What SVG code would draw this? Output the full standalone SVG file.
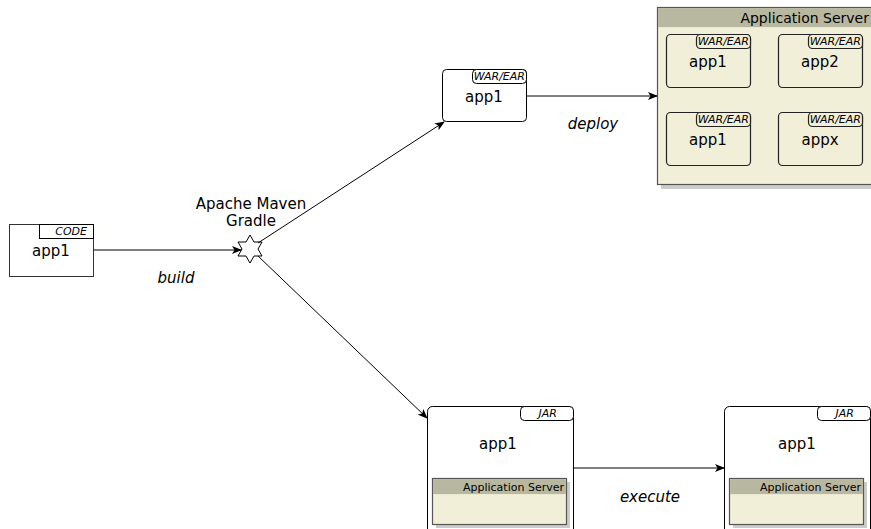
<svg xmlns="http://www.w3.org/2000/svg" width="871" height="529" viewBox="0 0 871 529">
<defs>
<marker id="arr" markerWidth="10" markerHeight="8" refX="9" refY="4" orient="auto" markerUnits="userSpaceOnUse">
<path d="M0,0 L10,4 L0,8 L2.5,4 Z" fill="#000"/>
</marker>
</defs>
<style>
text{font-family:"DejaVu Sans",sans-serif;fill:#000}
.lbl{font-size:15px;text-anchor:middle}
.tag{font-size:11px;font-style:italic;text-anchor:end}
.edge{font-size:15px;font-style:italic;text-anchor:middle}
.node{fill:#fff;stroke:#000;stroke-width:1}
.tagbox{fill:#fff;stroke:#000;stroke-width:1}
.srv{fill:#f2efd9;stroke:#555;stroke-width:1.2}
.hdr{fill:#b8b8a0;stroke:none}
.shadow{fill:#ccc}
.conn{stroke:#000;stroke-width:1;fill:none;marker-end:url(#arr)}
</style>
<g id="code">
<rect class="node" x="9.5" y="224.5" width="84" height="52" style="stroke:#333"/>
<rect class="tagbox" x="39.5" y="224.5" width="54" height="14"/>
<text class="tag" x="87" y="235">CODE</text>
<text class="lbl" x="51" y="256">app1</text>
</g>
<g id="build-tool">
<text class="lbl" x="251" y="209">Apache Maven</text>
<text class="lbl" x="251" y="226">Gradle</text>
<polygon points="250,235 254,242 262,242 258,249 262,256 254,256 250,263 246,256 238,256 242,249 238,242 246,242" fill="#fff" stroke="#000" stroke-width="1"/>
</g>
<g id="war">
<rect class="node" x="442.5" y="69.5" width="84" height="52" rx="4"/>
<rect class="tagbox" x="472.5" y="69.5" width="54" height="14" rx="4"/>
<text class="tag" x="525" y="80">WAR/EAR</text>
<text class="lbl" x="484" y="102">app1</text>
</g>
<g id="appserver">
<rect class="shadow" x="661" y="11" width="214" height="178"/>
<rect class="srv" x="657.5" y="7.5" width="216" height="177"/>
<rect class="hdr" x="658.1" y="8.1" width="214" height="19"/>
<text x="869" y="23" style="font-size:14px;text-anchor:end">Application Server</text>
<g id="srv-app1">
<rect class="srv" x="666.5" y="34.5" width="84" height="53" rx="4" style="stroke:#222"/>
<rect class="srv" x="696.5" y="34.5" width="54" height="14" rx="4" style="stroke:#222"/>
<text class="tag" x="749" y="45">WAR/EAR</text>
<text class="lbl" x="708" y="67">app1</text>
</g>
<g id="srv-app2">
<rect class="srv" x="778.5" y="34.5" width="84" height="53" rx="4" style="stroke:#222"/>
<rect class="srv" x="808.5" y="34.5" width="54" height="14" rx="4" style="stroke:#222"/>
<text class="tag" x="861" y="45">WAR/EAR</text>
<text class="lbl" x="820" y="67">app2</text>
</g>
<g id="srv-app1b">
<rect class="srv" x="666.5" y="112.5" width="84" height="53" rx="4" style="stroke:#222"/>
<rect class="srv" x="696.5" y="112.5" width="54" height="14" rx="4" style="stroke:#222"/>
<text class="tag" x="749" y="123">WAR/EAR</text>
<text class="lbl" x="708" y="145">app1</text>
</g>
<g id="srv-appx">
<rect class="srv" x="778.5" y="112.5" width="84" height="53" rx="4" style="stroke:#222"/>
<rect class="srv" x="808.5" y="112.5" width="54" height="14" rx="4" style="stroke:#222"/>
<text class="tag" x="861" y="123">WAR/EAR</text>
<text class="lbl" x="820" y="145">appx</text>
</g>
</g>
<g id="jar1">
<rect class="node" x="427.5" y="406.5" width="146" height="130" rx="5"/>
<rect class="tagbox" x="520.5" y="406.5" width="53" height="14" rx="4"/>
<text class="tag" x="557" y="417">JAR</text>
<text class="lbl" x="498" y="449">app1</text>
<rect class="shadow" x="436" y="482" width="134" height="46"/>
<rect class="srv" x="432.5" y="478.5" width="134" height="46"/>
<rect class="hdr" x="433.1" y="479.1" width="132.8" height="15"/>
<text x="564" y="491" style="font-size:11px;text-anchor:end">Application Server</text>
</g>
<g id="jar2">
<rect class="node" x="724.5" y="406.5" width="146" height="130" rx="5"/>
<rect class="tagbox" x="817.5" y="406.5" width="53" height="14" rx="4"/>
<text class="tag" x="854" y="417">JAR</text>
<text class="lbl" x="797" y="449">app1</text>
<rect class="shadow" x="733" y="482" width="134" height="46"/>
<rect class="srv" x="729.5" y="478.5" width="134" height="46"/>
<rect class="hdr" x="730.1" y="479.1" width="132.8" height="15"/>
<text x="861" y="491" style="font-size:11px;text-anchor:end">Application Server</text>
</g>
<g id="connectors">
<line class="conn" x1="93.5" y1="250" x2="241" y2="250"/>
<line class="conn" x1="258" y1="243" x2="444" y2="122"/>
<line class="conn" x1="526.5" y1="96" x2="657" y2="96"/>
<line class="conn" x1="258" y1="256" x2="427" y2="418"/>
<line class="conn" x1="573.5" y1="468" x2="724" y2="468"/>
<text class="edge" x="176" y="283">build</text>
<text class="edge" x="593" y="129">deploy</text>
<text class="edge" x="650" y="502">execute</text>
</g>
</svg>
